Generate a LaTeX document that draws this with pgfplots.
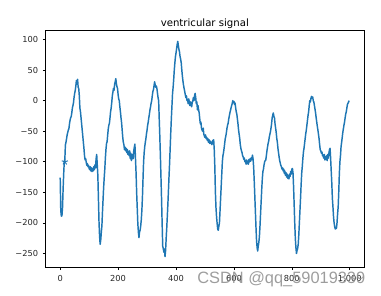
\documentclass[border=0pt]{standalone}
\usepackage{fontspec}
\setmainfont{DejaVu Sans}
\newfontfamily\wmfont{Liberation Sans}
\usepackage{pgfplots}
\pgfplotsset{compat=1.18}
\definecolor{mplblue}{HTML}{1F77B4}
\pgfplotstableread{
x y
0 -126
2 -180
4 -189
6 -188
8 -175
10 -145
12 -120
14 -100
16 -96
18 -72
20 -68
22 -62
24 -56
26 -52
28 -48
30 -46
32 -38
34 -32
36 -28
38 -26
40 -20
42 -12
44 -8
46 -3
48 6
50 12
52 17
54 24
56 33
58 27
60 35
62 22
64 20
66 8
68 -12
70 -18
72 -28
74 -38
76 -48
78 -58
80 -68
82 -78
84 -90
86 -97
88 -95
90 -101
92 -106
94 -103
96 -108
98 -106
100 -111
102 -113
104 -108
106 -115
108 -110
110 -116
112 -111
114 -115
116 -108
118 -113
120 -105
122 -110
124 -95
126 -88
128 -105
130 -122
132 -160
134 -198
136 -222
138 -235
140 -228
142 -215
144 -205
146 -182
148 -162
150 -142
152 -126
154 -112
156 -94
158 -80
160 -70
162 -67
164 -56
166 -46
168 -40
170 -37
172 -28
174 -18
176 -12
178 -3
180 8
182 14
184 20
186 17
188 27
190 31
192 36
194 28
196 23
198 20
200 10
202 3
204 0
206 -10
208 -18
210 -28
212 -36
214 -48
216 -60
218 -68
220 -72
222 -80
224 -76
226 -82
228 -78
230 -85
232 -80
234 -88
236 -83
238 -90
240 -82
242 -95
244 -86
246 -98
248 -90
250 -88
252 -95
254 -82
256 -76
258 -71
260 -95
262 -118
264 -150
266 -175
268 -200
270 -215
272 -224
274 -215
276 -212
278 -205
280 -195
282 -180
284 -158
286 -128
288 -100
290 -85
292 -75
294 -68
296 -62
298 -54
300 -48
302 -40
304 -35
306 -28
308 -22
310 -15
312 -10
314 -4
316 0
318 8
320 15
322 18
324 24
326 31
328 26
330 22
332 24
334 20
336 12
338 5
340 0
342 -30
344 -58
346 -90
348 -125
350 -160
352 -200
354 -238
356 -242
358 -248
360 -243
362 -255
364 -245
366 -225
368 -208
370 -188
372 -168
374 -145
376 -122
378 -100
380 -75
382 -50
384 -28
386 -8
388 12
390 22
392 35
394 50
396 62
398 72
400 78
402 85
404 92
406 97
408 90
410 84
412 80
414 72
416 68
418 62
420 50
422 40
424 32
426 25
428 20
430 15
432 10
434 5
436 8
438 0
440 2
442 -5
444 3
446 -3
448 -8
450 -2
452 -5
454 -10
456 -3
458 0
460 5
462 0
464 8
466 12
468 5
470 -5
472 -2
474 -15
476 -8
478 -15
480 -20
482 -30
484 -38
486 -35
488 -45
490 -48
492 -50
494 -45
496 -55
498 -58
500 -60
502 -56
504 -62
506 -60
508 -65
510 -62
512 -68
514 -64
516 -70
518 -66
520 -70
522 -68
524 -72
526 -66
528 -65
530 -64
532 -80
534 -108
536 -150
538 -175
540 -190
542 -201
544 -210
546 -212
548 -205
550 -200
552 -180
554 -160
556 -140
558 -120
560 -100
562 -90
564 -85
566 -78
568 -70
570 -62
572 -58
574 -52
576 -45
578 -40
580 -37
582 -30
584 -25
586 -20
588 -16
590 -12
592 -8
594 -5
596 0
598 -3
600 -1
602 -6
604 -4
606 -12
608 -18
610 -22
612 -30
614 -38
616 -48
618 -55
620 -62
622 -72
624 -78
626 -82
628 -85
630 -90
632 -92
634 -96
636 -94
638 -100
640 -98
642 -104
644 -97
646 -103
648 -99
650 -104
652 -96
654 -100
656 -95
658 -99
660 -93
662 -96
664 -89
666 -95
668 -108
670 -130
672 -155
674 -180
676 -205
678 -228
680 -240
682 -246
684 -238
686 -232
688 -222
690 -205
692 -185
694 -165
696 -145
698 -128
700 -116
702 -112
704 -105
706 -100
708 -98
710 -97
712 -90
714 -82
716 -76
718 -70
720 -66
722 -60
724 -55
726 -51
728 -45
730 -38
732 -28
734 -24
736 -20
738 -26
740 -28
742 -38
744 -45
746 -52
748 -62
750 -68
752 -78
754 -85
756 -92
758 -98
760 -102
762 -106
764 -108
766 -112
768 -110
770 -115
772 -112
774 -119
776 -115
778 -122
780 -118
782 -125
784 -120
786 -127
788 -123
790 -128
792 -120
794 -124
796 -116
798 -120
800 -112
802 -111
804 -118
806 -141
808 -170
810 -200
812 -225
814 -240
816 -250
818 -245
820 -242
822 -235
824 -220
826 -200
828 -180
830 -160
832 -138
834 -119
836 -108
838 -95
840 -84
842 -78
844 -70
846 -62
848 -54
850 -48
852 -40
854 -32
856 -24
858 -18
860 -8
862 0
864 -2
866 4
868 7
870 4
872 6
874 0
876 -2
878 -8
880 -14
882 -20
884 -28
886 -35
888 -42
890 -48
892 -55
894 -62
896 -72
898 -80
900 -82
902 -86
904 -84
906 -90
908 -89
910 -94
912 -88
914 -97
916 -92
918 -96
920 -90
922 -98
924 -88
926 -94
928 -86
930 -80
932 -78
934 -95
936 -115
938 -135
940 -160
942 -174
944 -190
946 -200
948 -206
950 -210
952 -208
954 -209
956 -200
958 -185
960 -174
962 -150
964 -120
966 -100
968 -90
970 -75
972 -68
974 -60
976 -52
978 -46
980 -40
982 -35
984 -28
986 -22
988 -18
990 -12
992 -6
994 -4
996 -2
998 0
}\sig
\begin{document}
\begin{tikzpicture}
\useasboundingbox (-34.3pt,-21.5pt) rectangle (251.5pt,200.5pt);
\begin{axis}[
  at={(0,0)}, anchor=south west,
  scale only axis, width=238.7pt, height=177.5pt,
  xmin=-50, xmax=1049, ymin=-272.6, ymax=114.6,
  xtick={0,200,400,600,800,1000},
  ytick={-250,-200,-150,-100,-50,0,50,100},
  yticklabels={−250,−200,−150,−100,−50,0,50,100},
  /pgf/number format/assume math mode=true,
  tick align=outside, major tick length=2.2pt,
  tick style={line width=0.5pt, black},
  xtick pos=bottom, ytick pos=left,
  axis line style={line width=0.5pt},
  ticklabel style={font=\fontsize{6.2pt}{7pt}\selectfont, text=black!85},
  title={ventricular signal},
  title style={at={(0.5,1)}, anchor=base, yshift=-3pt, inner sep=0pt, font=\fontsize{7.6pt}{9pt}\selectfont},
  clip=true,
]
\addplot[color=mplblue, line width=1.1pt, line join=round] table[x=x,y=y] {\sig};
\addplot[only marks, mark=star, mark size=2.4pt, color=mplblue, mark options={line width=0.7pt}] coordinates {(16,-100)};
\end{axis}
\node[anchor=base west, inner sep=0pt, text=black!45, opacity=0.85, font=\wmfont\fontsize{12.3pt}{14pt}\selectfont] at (113.5pt,-12.5pt) {CSDN @qq\_59019339};
\end{tikzpicture}
\end{document}
